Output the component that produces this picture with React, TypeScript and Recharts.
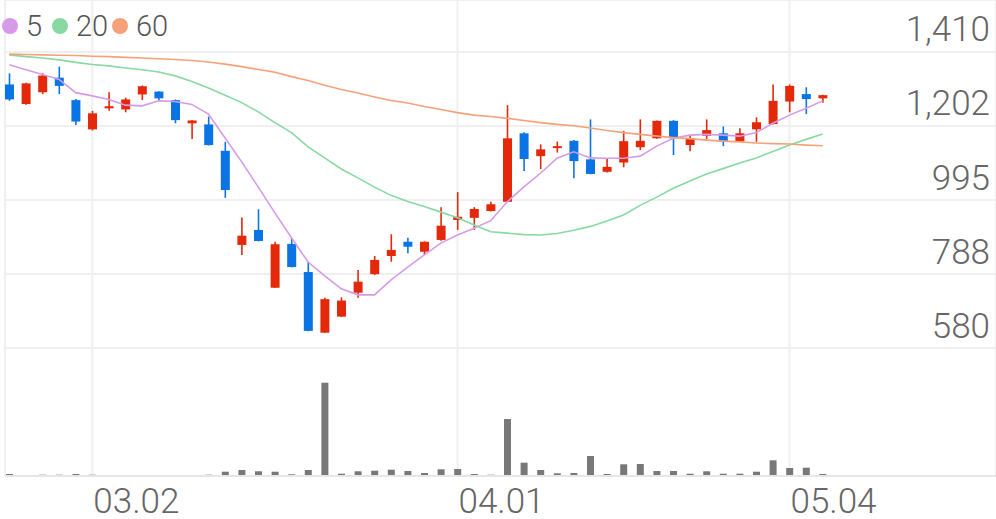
import { Bar, CartesianGrid, ComposedChart, Line, XAxis, YAxis } from "recharts";

const dates = [
  "02.24", "02.25", "02.26", "02.27", "02.28",
  "03.02", "03.03", "03.04", "03.05", "03.06", "03.09", "03.10", "03.11", "03.12", "03.13",
  "03.16", "03.17", "03.18", "03.19", "03.20", "03.23", "03.24", "03.25", "03.26", "03.27",
  "03.30", "03.31",
  "04.01", "04.02", "04.03", "04.06", "04.07", "04.08", "04.09", "04.10", "04.13", "04.14",
  "04.16", "04.17", "04.20", "04.21", "04.22", "04.23", "04.24", "04.27", "04.28", "04.29",
  "05.04", "05.06", "05.07",
];

const opens = [
  1319, 1264, 1297, 1338, 1275, 1193, 1252, 1249, 1291, 1299,
  1275, 1210, 1207, 1133, 869, 911, 749, 872, 793, 623,
  668, 735, 787, 838, 878, 850, 883, 939, 945, 964,
  990, 1182, 1118, 1143, 1161, 1109, 1074, 1100, 1143, 1168,
  1217, 1149, 1175, 1182, 1159, 1193, 1208, 1271, 1292, 1280,
];
const highs = [
  1350, 1324, 1350, 1369, 1278, 1245, 1297, 1282, 1316, 1300,
  1277, 1219, 1229, 1158, 946, 969, 878, 886, 822, 721,
  722, 799, 838, 899, 889, 879, 975, 1017, 975, 990,
  1261, 1185, 1151, 1159, 1163, 1221, 1112, 1189, 1221, 1218,
  1219, 1175, 1221, 1201, 1196, 1227, 1319, 1319, 1311, 1290,
];
const lows = [
  1273, 1262, 1292, 1292, 1205, 1190, 1245, 1241, 1275, 1273,
  1210, 1166, 1148, 1001, 841, 879, 748, 806, 627, 622,
  667, 721, 785, 822, 846, 841, 881, 911, 911, 963,
  989, 1076, 1082, 1128, 1056, 1067, 1072, 1087, 1135, 1167,
  1121, 1132, 1166, 1146, 1158, 1158, 1207, 1241, 1236, 1268,
];
const closes = [
  1277, 1322, 1344, 1315, 1215, 1238, 1258, 1277, 1314, 1280,
  1219, 1218, 1149, 1023, 895, 880, 871, 807, 628, 717,
  713, 766, 827, 855, 864, 878, 923, 948, 970, 983,
  1168, 1110, 1137, 1146, 1104, 1068, 1088, 1160, 1161, 1217,
  1168, 1168, 1191, 1159, 1182, 1213, 1273, 1315, 1278, 1289,
];
// volume in thousands of shares
const volumes = [
  100, 35, 65, 65, 100, 65, 30, 30, 30, 30,
  50, 50, 65, 215, 300, 235, 215, 85, 300, 4665,
  115, 235, 265, 315, 250, 150, 335, 350, 100, 65,
  2850, 665, 300, 135, 150, 1000, 100, 585, 600, 250,
  250, 115, 235, 115, 115, 215, 785, 400, 415, 100,
];

const ma5 = [
  1374, 1360, 1347, 1333, 1296, 1287, 1277, 1261, 1259, 1273,
  1271, 1263, 1236, 1169, 1102, 1031, 959, 889, 821, 782,
  746, 729, 729, 771, 807, 841, 874, 897, 916, 937,
  990, 1032, 1070, 1112, 1130, 1113, 1112, 1112, 1118, 1146,
  1168, 1177, 1179, 1177, 1174, 1184, 1210, 1233, 1252, 1273,
];
const ma20 = [
  1402, 1397, 1393, 1388, 1381, 1375, 1371, 1365, 1360, 1354,
  1343, 1327, 1309, 1289, 1268, 1242, 1212, 1184, 1144, 1113,
  1082, 1057, 1031, 1008, 991, 977, 961, 945, 925, 906,
  902, 898, 897, 901, 910, 921, 936, 953, 980, 1003,
  1028, 1048, 1068, 1083, 1099, 1113, 1131, 1149, 1165, 1180,
];
const ma60 = [
  1404, 1403, 1402, 1401, 1400, 1398, 1397, 1395, 1393, 1391,
  1389, 1386, 1382, 1376, 1369, 1361, 1353, 1341, 1330, 1317,
  1305, 1295, 1284, 1274, 1267, 1257, 1249, 1240, 1233, 1229,
  1224, 1218, 1212, 1207, 1203, 1197, 1190, 1184, 1179, 1174,
  1170, 1167, 1163, 1160, 1158, 1155, 1153, 1152, 1149, 1147,
];

const priceTicks = [580, 787.5, 995, 1202.5, 1410];
const priceTickLabels = ["580", "788", "995", "1,202", "1,410"];
const dateTicks = ["03.02", "04.01", "05.04"];

const maSeries = [
  { key: "ma5", label: "5", color: "#d69be8", left: 2 },
  { key: "ma20", label: "20", color: "#88d9a2", left: 52 },
  { key: "ma60", label: "60", color: "#f5a27b", left: 112 },
];

const RED = "#e4290b";
const BLUE = "#0b74e5";
const TEXT = "#666666";
const X_PADDING = { left: -4, right: 165 };

const rows = dates.map((date, i) => ({
  date,
  open: opens[i],
  high: highs[i],
  low: lows[i],
  close: closes[i],
  range: [lows[i], highs[i]],
  volume: volumes[i],
  ma5: ma5[i],
  ma20: ma20[i],
  ma60: ma60[i],
}));

// candle drawn inside the [low, high] range bar, so the y scale stays recharts'
const Candle = (props: any) => {
  const { x, y, width, height, payload } = props;
  if (x == null || y == null) return null;
  const top = Math.min(y, y + height);
  const bottom = Math.max(y, y + height);
  const span = payload.high - payload.low;
  const k = span > 0 ? (bottom - top) / span : 0;
  const toY = (v: number) => top + (payload.high - v) * k;
  const color = payload.close >= payload.open ? RED : BLUE;
  const cx = x + width / 2;
  const bodyTop = toY(Math.max(payload.open, payload.close));
  const bodyH = Math.max(2, toY(Math.min(payload.open, payload.close)) - bodyTop);
  return (
    <g>
      <line x1={cx} x2={cx} y1={top} y2={bottom} stroke={color} strokeWidth={1.6} />
      <rect x={x} y={bodyTop} width={width} height={bodyH} fill={color} />
    </g>
  );
};

const PriceTick = (props: any) => {
  const { y, payload } = props;
  const idx = priceTicks.indexOf(payload.value);
  return (
    <text x={990} y={y - 10.5} textAnchor="end" fill={TEXT} fontSize={35} fontWeight={300} fontFamily="Roboto">
      {priceTickLabels[idx]}
    </text>
  );
};

const DateTick = (props: any) => {
  const { x, payload } = props;
  return (
    <text x={x + 1} y={512.5} textAnchor="start" fill={TEXT} fontSize={35} fontWeight={300} fontFamily="Roboto">
      {payload.value}
    </text>
  );
};

export default function App() {
  return (
    <div style={{ position: "absolute", left: 0, top: 0, width: 996, height: 519, background: "#fff", fontFamily: "Roboto" }}>
      <ComposedChart width={996} height={519} data={rows} margin={{ top: 0, right: 0, bottom: 0, left: 5 }}>
        <CartesianGrid yAxisId="price" stroke="#efefef" strokeWidth={2} vertical horizontal />
        <XAxis
          dataKey="date"
          type="category"
          ticks={dateTicks}
          interval={0}
          padding={X_PADDING}
          height={43}
          tickLine={false}
          tickSize={0}
          axisLine={{ stroke: "#e6e6e6", strokeWidth: 2 }}
          tick={<DateTick />}
        />
        {/* second, hidden x axis so the volume bars don't get grouped beside the candles */}
        <XAxis xAxisId="vol" dataKey="date" type="category" padding={X_PADDING} height={43} hide />
        <YAxis
          yAxisId="price"
          orientation="right"
          mirror
          domain={[221.1, 1555.8]}
          ticks={priceTicks}
          allowDataOverflow
          axisLine={false}
          tickLine={false}
          tick={<PriceTick />}
        />
        <YAxis yAxisId="vol" hide domain={[0, 23800]} allowDataOverflow />
        <Bar xAxisId="vol" yAxisId="vol" dataKey="volume" fill="#787878" barSize={7} isAnimationActive={false} />
        <Bar yAxisId="price" dataKey="range" barSize={9} shape={<Candle />} isAnimationActive={false} />
        {maSeries.map((s) => (
          <Line
            key={s.key}
            yAxisId="price"
            dataKey={s.key}
            type="linear"
            stroke={s.color}
            strokeWidth={1.6}
            dot={false}
            activeDot={false}
            isAnimationActive={false}
          />
        ))}
      </ComposedChart>
      {maSeries.map((s) => (
        <div key={s.key} style={{ position: "absolute", left: s.left, top: 8, height: 36, display: "flex", alignItems: "center", fontSize: 29, fontWeight: 300, color: "#555" }}>
          <span style={{ width: 16, height: 16, borderRadius: 8, background: s.color, display: "inline-block", marginRight: 8 }} />
          {s.label}
        </div>
      ))}
    </div>
  );
}
